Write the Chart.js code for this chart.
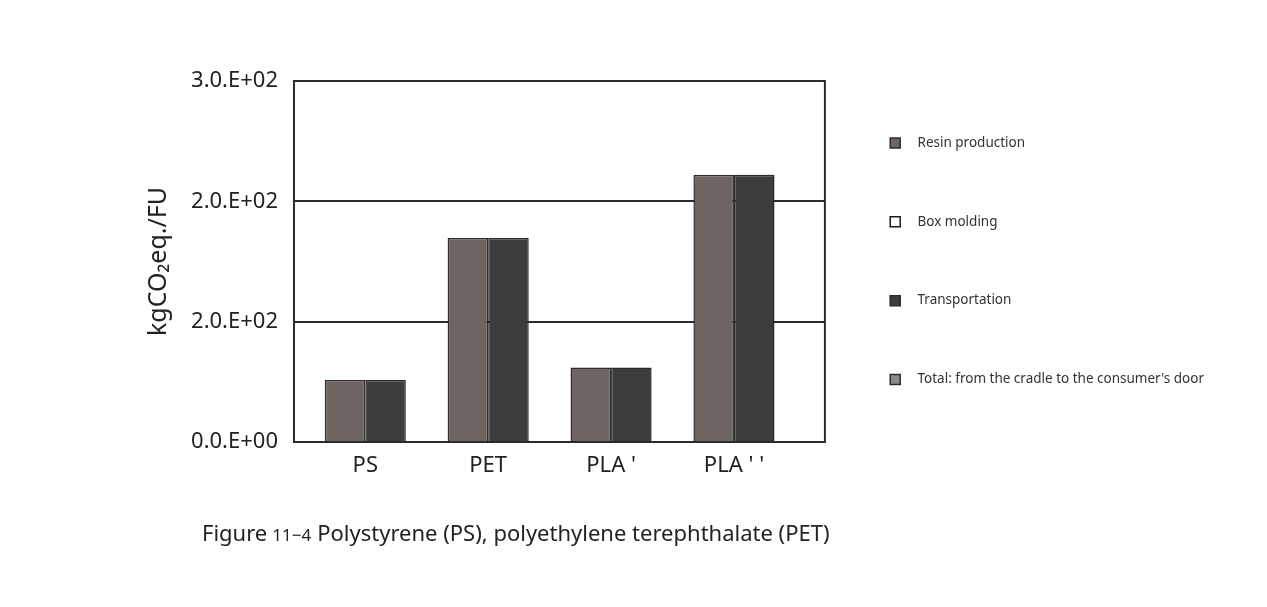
<!DOCTYPE html>
<html>
<head>
<meta charset="utf-8">
<script src="https://cdn.jsdelivr.net/npm/chart.js@4/dist/chart.umd.min.js"></script>
<style>
  html, body { margin: 0; padding: 0; background: #fff; }
  #wrap { position: relative; width: 1267px; height: 607px; }
  #caption {
    position: absolute; left: 202px; top: 517px;
    font-family: "Noto Sans", sans-serif; font-size: 22px; color: #222;
    white-space: nowrap;
  }
  #caption .num { font-size: 17px; margin: 0 6px 0 5px; }
</style>
</head>
<body>
<div id="wrap">
  <canvas id="myChart" width="1267" height="607"></canvas>
  <div id="caption">Figure<span class="num">11−4</span>Polystyrene (PS), polyethylene terephthalate (PET)</div>
</div>
<script>
// materials along the x axis
var categories = ["PS", "PET", "PLA '", "PLA ' '"];

// kgCO2 eq. per functional unit
var resinProduction = [51.5, 169.5, 62, 222];
var boxMolding = [null, null, null, null];
var transportation = [51.5, 169.5, 62, 222];
var totalCradleToDoor = [null, null, null, null];

// y tick labels exactly as printed in the figure
var yTickValues = [0, 100, 200, 300];
var yTickLabels = ["0.0.E+00", "2.0.E+02", "2.0.E+02", "3.0.E+02"];

function toPoints(arr) {
    return arr.map(function(v, i) {
        return { x: i, y: v };
    });
}

// draws the box round the plot
var frame = {
    id: 'frame',
    afterDraw: function(chart) {
        var a = chart.chartArea;
        var ctx = chart.ctx;
        ctx.save();
        ctx.strokeStyle = '#2b2b2b';
        ctx.lineWidth = 2;
        ctx.strokeRect(a.left, a.top, a.right - a.left, a.bottom - a.top);
        ctx.restore();
    }
};

var ctx = document.getElementById('myChart').getContext('2d');
var chart = new Chart(ctx, {
    type: 'bar',
    data: {
        datasets: [{
            label: "Resin production",
            data: toPoints(resinProduction),
            backgroundColor: '#6e6462',
            borderColor: '#2e2e2e',
            borderWidth: 1.5
        }, {
            label: "Box molding",
            data: toPoints(boxMolding),
            backgroundColor: '#ffffff',
            borderColor: '#1a1a1a',
            borderWidth: 1.5
        }, {
            label: "Transportation",
            data: toPoints(transportation),
            backgroundColor: '#3d3d3d',
            borderColor: '#2a2a2a',
            borderWidth: 1.5
        }, {
            label: "Total: from the cradle to the consumer's door",
            data: toPoints(totalCradleToDoor),
            backgroundColor: '#8a8a8a',
            borderColor: '#2e2e2e',
            borderWidth: 1.5
        }]
    },
    options: {
        responsive: false,
        animation: false,
        skipNull: true,
        categoryPercentage: 0.66,
        barPercentage: 1.0,
        layout: {
            padding: { left: 144, top: 71, right: 53, bottom: 125 }
        },
        scales: {
            x: {
                type: 'linear',
                offset: false,
                min: -0.58,
                max: 3.74,
                afterBuildTicks: function(scale) {
                    scale.ticks = categories.map(function(c, i) { return { value: i }; });
                },
                afterFit: function(scale) { scale.height = 40; },
                ticks: {
                    callback: function(v) { return categories[v]; },
                    font: { family: "Noto Sans", size: 22 },
                    color: '#222',
                    padding: 11
                },
                grid: { display: false, drawTicks: false },
                border: { display: false }
            },
            y: {
                min: 0,
                max: 300,
                afterBuildTicks: function(scale) {
                    scale.ticks = yTickValues.map(function(v) { return { value: v }; });
                },
                afterFit: function(scale) { scale.width = 150; },
                ticks: {
                    callback: function(v) { return yTickLabels[yTickValues.indexOf(v)]; },
                    font: { family: "Noto Sans", size: 22 },
                    color: '#222',
                    padding: 16
                },
                grid: { color: '#2b2b2b', lineWidth: 2, drawTicks: false },
                border: { display: false },
                title: {
                    display: true,
                    text: 'kgCO₂eq./FU',
                    font: { family: "Noto Sans", size: 25 },
                    color: '#222',
                    padding: 0
                }
            }
        },
        plugins: {
            // empty spacer above the plot only, so the legend column can start higher
            title: {
                display: true,
                text: '',
                fullSize: false,
                font: { size: 1 },
                padding: { top: 0, bottom: 8.8 }
            },
            legend: {
                position: 'right',
                align: 'start',
                maxWidth: 600,
                labels: {
                    boxWidth: 10,
                    boxHeight: 10,
                    padding: 65.3,
                    color: '#333',
                    font: { family: "Noto Sans", size: 13.5 },
                    generateLabels: function(ch) {
                        var items = Chart.defaults.plugins.legend.labels.generateLabels(ch);
                        items.forEach(function(it) {
                            it.text = '   ' + it.text;
                            it.lineWidth = 1.5;
                        });
                        return items;
                    }
                }
            },
            tooltip: { enabled: false }
        }
    },
    plugins: [frame]
});
</script>
</body>
</html>
